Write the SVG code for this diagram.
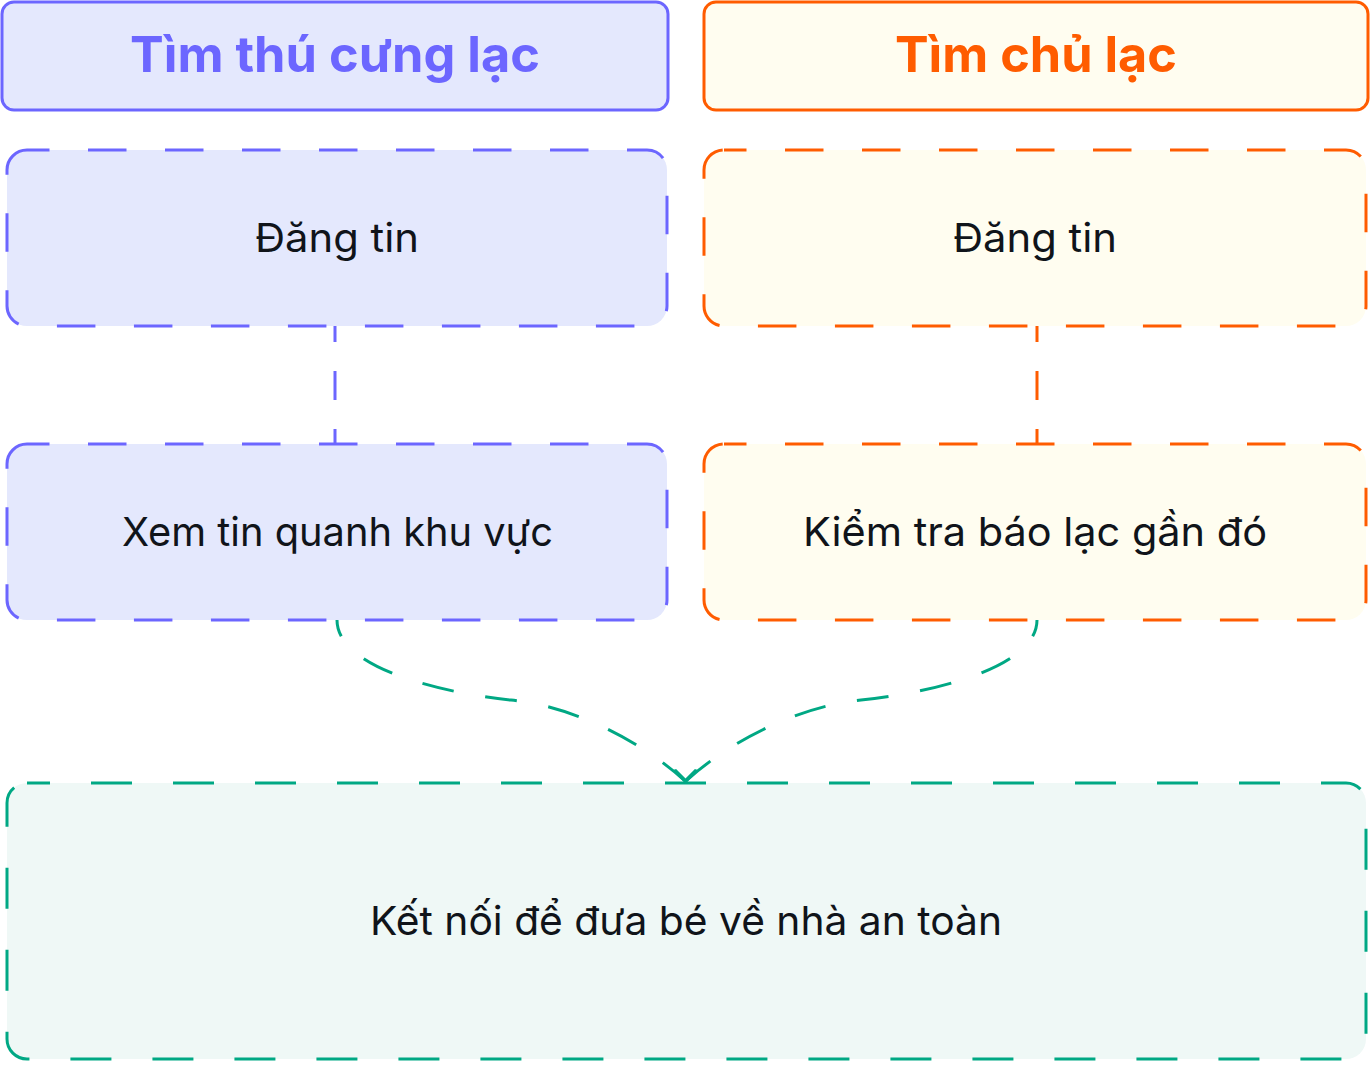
<svg xmlns="http://www.w3.org/2000/svg" width="1372" height="1066" viewBox="0 0 1372 1066">
<style>
.hb{fill:#e4e8fd;stroke:#6c66ff;stroke-width:3}
.ho{fill:#fffdf0;stroke:#ff5c00;stroke-width:3}
.db{fill:#e4e8fd;stroke:#6c66ff;stroke-width:3;stroke-dasharray:38.5 38.5;stroke-dashoffset:16}
.do{fill:#fffdf0;stroke:#ff5c00;stroke-width:3;stroke-dasharray:38.5 38.5;stroke-dashoffset:16}
.dg{fill:#eff8f6;stroke:#00a884;stroke-width:3;stroke-dasharray:41 41;stroke-dashoffset:18}
.t{font-family:Inter,"Noto Sans","Liberation Sans",sans-serif;text-anchor:middle}
.ht{font-size:50px;font-weight:700}
.bt{font-size:40px;fill:#10141a}
.cb{fill:none;stroke:#6c66ff;stroke-width:3;stroke-dasharray:29 29;stroke-dashoffset:13}
.co{fill:none;stroke:#ff5c00;stroke-width:3;stroke-dasharray:29 29;stroke-dashoffset:13}
.cg{fill:none;stroke:#00a884;stroke-width:3;stroke-dasharray:32 32;stroke-dashoffset:15;marker-end:url(#arr)}
</style>
<defs>
<marker id="arr" markerUnits="userSpaceOnUse" markerWidth="30" markerHeight="30" refX="0" refY="0" viewBox="-15 -15 30 30" orient="90" overflow="visible">
<path d="M-11,-11 L0,0 L-11,11" fill="none" stroke="#00a884" stroke-width="3"/>
</marker>
</defs>
<g id="header-pet">
<rect class="hb" x="2" y="2" width="666" height="108" rx="12"/>
<text class="t ht" x="335" y="72" fill="#6c66ff" textLength="410" lengthAdjust="spacingAndGlyphs">Tìm thú cưng lạc</text>
</g>
<g id="header-owner">
<rect class="ho" x="704" y="2" width="664" height="108" rx="12"/>
<text class="t ht" x="1036" y="72" fill="#ff5c00" textLength="282" lengthAdjust="spacingAndGlyphs">Tìm chủ lạc</text>
</g>
<g id="pet-post">
<rect class="db" x="7" y="150" width="660" height="176" rx="20"/>
<text class="t bt" x="337" y="252" textLength="164" lengthAdjust="spacingAndGlyphs">Đăng tin</text>
</g>
<g id="pet-browse">
<rect class="db" x="7" y="444" width="660" height="176" rx="20"/>
<text class="t bt" x="337.5" y="546" textLength="431" lengthAdjust="spacingAndGlyphs">Xem tin quanh khu vực</text>
</g>
<g id="owner-post">
<rect class="do" x="704" y="150" width="662" height="176" rx="20"/>
<text class="t bt" x="1035" y="252" textLength="164" lengthAdjust="spacingAndGlyphs">Đăng tin</text>
</g>
<g id="owner-check">
<rect class="do" x="704" y="444" width="662" height="176" rx="20"/>
<text class="t bt" x="1035" y="546" textLength="464" lengthAdjust="spacingAndGlyphs">Kiểm tra báo lạc gần đó</text>
</g>
<g id="connect">
<rect class="dg" x="7" y="783" width="1359" height="276" rx="20"/>
<text class="t bt" x="686" y="935" textLength="632" lengthAdjust="spacingAndGlyphs">Kết nối để đưa bé về nhà an toàn</text>
</g>
<g id="connectors">
<path class="cb" d="M335,326 L335,444"/>
<path class="co" d="M1037,326 L1037,444"/>
<path class="cg" d="M337,620 C337,670 450,694 511,700 C572,706 640,740 685,781"/>
<path class="cg" d="M1037,620 C1037,670 922,694 861,700 C800,706 731,740 686,781"/>
</g>
</svg>
